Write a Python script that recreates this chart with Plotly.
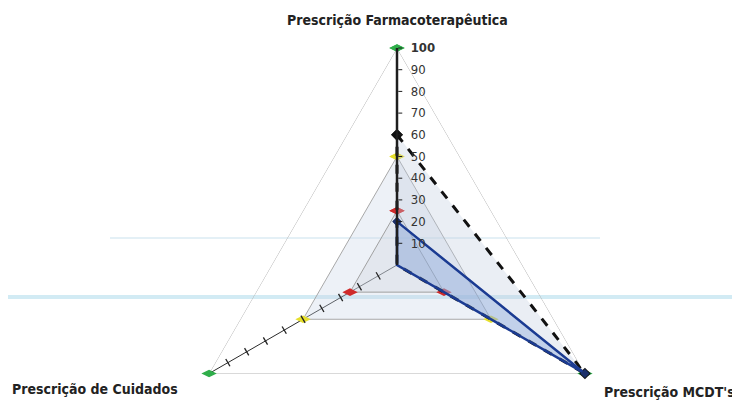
import plotly.graph_objects as go

# ---- data ----
categories = ["Prescrição Farmacoterapêutica", "Prescrição MCDT's", "Prescrição de Cuidados"]
max_vals = [100, 100, 100]      # green markers
mid_vals = [50, 50, 50]         # yellow markers
low_vals = [25, 25, 25]         # red markers
target_vals = [60, 100, 0]      # dashed black
actual_vals = [20, 100, 0]      # blue
tick_vals = [10, 20, 30, 40, 50, 60, 70, 80, 90, 100]
tick_labels = ["10", "20", "30", "40", "50", "60", "70", "80", "90", "100"]

FONT = "DejaVu Sans Condensed, DejaVu Sans, sans-serif"

def closed(v):
    return list(v) + [v[0]]

theta_c = closed(categories)
pad = "\u2002"
tick_text = [pad + t for t in tick_labels[:-1]] + [pad + "<b>" + tick_labels[-1] + "</b>"]

fig = go.Figure()

fig.add_trace(go.Scatterpolar(
    r=closed(max_vals), theta=theta_c, mode="lines+markers",
    line=dict(color="#b4b4b4", width=1),
    marker=dict(symbol="diamond-wide", size=11, color="#2fae4a"),
    hoverinfo="skip", showlegend=False))

fig.add_trace(go.Scatterpolar(
    r=closed(mid_vals), theta=theta_c, mode="lines+markers",
    fill="toself", fillcolor="rgba(200,212,230,0.33)",
    line=dict(color="#a8a8a8", width=1),
    marker=dict(symbol="diamond-wide", size=11, color="#e6df2c"),
    hoverinfo="skip", showlegend=False))

fig.add_trace(go.Scatterpolar(
    r=closed(low_vals), theta=theta_c, mode="lines+markers",
    fill="toself", fillcolor="rgba(205,212,222,0.33)",
    line=dict(color="#a0a0a0", width=1),
    marker=dict(symbol="diamond-wide", size=11, color="#cf2a2a"),
    hoverinfo="skip", showlegend=False))

fig.add_trace(go.Scatterpolar(
    r=closed(target_vals), theta=theta_c, mode="lines+markers",
    fill="toself", fillcolor="rgba(190,202,222,0.33)",
    line=dict(color="#111111", width=3, dash="dash"),
    marker=dict(symbol="diamond", size=9, color="#111111"),
    hoverinfo="skip", showlegend=False))

fig.add_trace(go.Scatterpolar(
    r=closed(actual_vals), theta=theta_c, mode="lines+markers",
    fill="toself", fillcolor="rgba(120,155,215,0.35)",
    line=dict(color="#1b3b92", width=2.5),
    marker=dict(symbol="diamond", size=7, color="#1b2f6a"),
    hoverinfo="skip", showlegend=False))

# tick marks on the "Cuidados" spoke
fig.add_trace(go.Scatterpolar(
    r=tick_vals[:-1], theta=[categories[2]] * (len(tick_vals) - 1), mode="markers",
    marker=dict(symbol="line-ns", size=6, angle=150,
                line=dict(color="#222222", width=1.3)),
    hoverinfo="skip", showlegend=False))

OFF = 8  # page body margin
W = 732
L, R, T, B = 46, 0, 40, 18
PW = W - L - R
PH = 434
H = T + PH + B

def px(x):
    return (x - OFF - L) / PW

def py(y):
    return (H - B - (y - OFF)) / PH

label_font = dict(family=FONT, size=14, color="#222222", weight="bold")
annotations = [
    dict(text=categories[0], x=px(397), y=py(20), xanchor="center", yanchor="middle"),
    dict(text=categories[2], x=px(10), y=py(389), xanchor="left", yanchor="middle"),
    dict(text=categories[1], x=px(737), y=py(392), xanchor="right", yanchor="middle"),
]
for a in annotations:
    a.update(xref="paper", yref="paper", showarrow=False, font=label_font)

shapes = [
    dict(type="line", xref="paper", yref="paper", x0=px(110), x1=px(600), y0=py(238), y1=py(238),
         line=dict(color="rgba(205,228,238,0.55)", width=2), layer="below"),
    dict(type="line", xref="paper", yref="paper", x0=px(8), x1=px(740), y0=py(297), y1=py(297),
         line=dict(color="rgba(195,228,240,0.75)", width=4), layer="below"),
]

fig.update_layout(
    width=W, height=H,
    margin=dict(l=L, r=R, t=T, b=B),
    paper_bgcolor="white",
    font=dict(family=FONT, color="#333333"),
    annotations=annotations,
    shapes=shapes,
    polar=dict(
        domain=dict(x=[0, 1], y=[0, 1]),
        bgcolor="rgba(0,0,0,0)",
        gridshape="linear",
        radialaxis=dict(
            range=[0, 100], angle=90, tickangle=90,
            tickvals=tick_vals, ticktext=tick_text,
            showline=True, linecolor="#1e1e1e", linewidth=2.5,
            ticks="outside", ticklen=4, tickwidth=1.3, tickcolor="#1e1e1e",
            showgrid=False, layer="above traces",
            tickfont=dict(family=FONT, size=13, color="#333333"),
        ),
        angularaxis=dict(
            categoryorder="array", categoryarray=categories,
            rotation=90, direction="clockwise",
            showticklabels=False, ticks="", showline=False,
            showgrid=True, gridcolor="#2a2a2a", gridwidth=1.3,
        ),
    ),
)

fig.write_html("out.html")
